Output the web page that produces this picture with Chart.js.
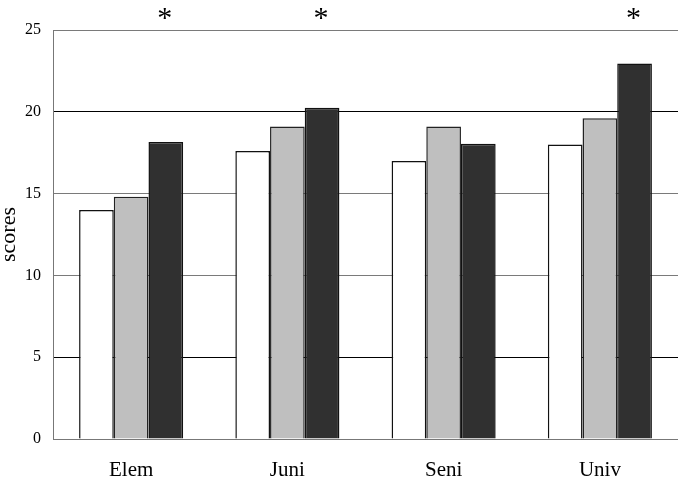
<!DOCTYPE html>
<html>
<head>
<meta charset="utf-8">
<script src="https://cdn.jsdelivr.net/npm/chart.js@4/dist/chart.umd.min.js"></script>
<style>
  html, body { margin: 0; padding: 0; background: #fff; }
  #holder { width: 678px; height: 482px; }
</style>
</head>
<body>
<div id="holder"><canvas id="myChart"></canvas></div>
<script>
var categories = ["Elem", "Juni", "Seni", "Univ"];
var seriesA = [14.0, 17.6, 17.0, 18.0];
var seriesB = [14.8, 19.1, 19.1, 19.6];
var seriesC = [18.15, 20.25, 18.05, 22.95];
var marks = ["*", "*", "", "*"];
var yTicks = [0, 5, 10, 15, 20, 25];

var serif = "'Liberation Serif', 'Times New Roman', serif";

// asterisks above the dark bars
var starPlugin = {
    id: 'stars',
    afterDatasetsDraw: function (chart) {
        var meta = chart.getDatasetMeta(2);
        var c = chart.ctx;
        c.save();
        c.fillStyle = '#000';
        c.font = "30px " + serif;
        c.textAlign = 'center';
        c.textBaseline = 'middle';
        meta.data.forEach(function (bar, i) {
            if (marks[i]) c.fillText(marks[i], bar.x - 1, chart.chartArea.top - 11);
        });
        c.restore();
    }
};

var ctx = document.getElementById('myChart');
var myChart = new Chart(ctx, {
    type: 'bar',
    data: {
        labels: categories,
        datasets: [{
            data: seriesA,
            backgroundColor: '#ffffff',
            borderColor: '#111111',
            borderWidth: 1.5
        }, {
            data: seriesB,
            backgroundColor: '#bfbfbf',
            borderColor: '#222222',
            borderWidth: 1.5
        }, {
            data: seriesC,
            backgroundColor: '#303030',
            borderColor: '#111111',
            borderWidth: 1.5
        }]
    },
    options: {
        responsive: true,
        maintainAspectRatio: false,
        animation: false,
        layout: {
            padding: { left: 0, right: 0, top: 30, bottom: 0 }
        },
        datasets: {
            bar: { barPercentage: 1.0, categoryPercentage: 0.666 }
        },
        plugins: {
            legend: { display: false },
            tooltip: { enabled: false }
        },
        scales: {
            x: {
                afterFit: function (axis) { axis.height = 43; },
                grid: { display: false, drawTicks: false },
                border: { display: true, color: '#777777', width: 1 },
                ticks: {
                    color: '#000',
                    padding: 19,
                    font: { family: serif, size: 21 }
                }
            },
            y: {
                min: 0,
                max: 25,
                afterFit: function (axis) { axis.width = 53; },
                afterBuildTicks: function (axis) {
                    axis.ticks = yTicks.map(function (v) { return { value: v }; });
                },
                grid: {
                    drawTicks: false,
                    color: function (c) {
                        var v = c.tick ? c.tick.value : 0;
                        return (v === 5 || v === 20) ? '#000000' : '#7a7a7a';
                    },
                    lineWidth: 1
                },
                border: { display: true, color: '#777777', width: 1 },
                ticks: {
                    color: '#000',
                    padding: 12,
                    font: { family: serif, size: 16 }
                },
                title: {
                    display: true,
                    text: 'scores',
                    color: '#000',
                    padding: { top: -2, bottom: 0 },
                    font: { family: serif, size: 22, lineHeight: 1 }
                }
            }
        }
    },
    plugins: [starPlugin]
});
</script>
</body>
</html>
